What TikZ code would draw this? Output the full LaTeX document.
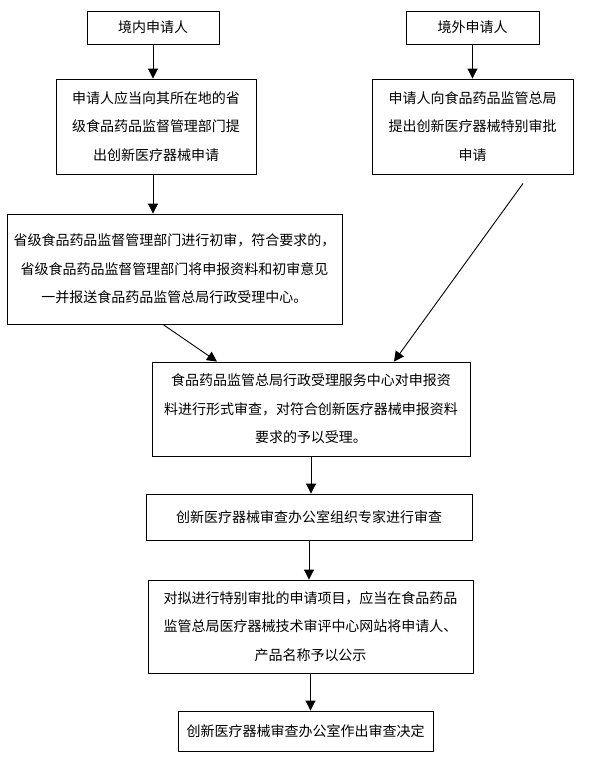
\documentclass[tikz,border=0pt]{standalone}
\usepackage{fontspec}
\setmainfont{Noto Sans CJK SC}
\usetikzlibrary{arrows.meta}
\begin{document}
\begin{tikzpicture}[x=1pt,y=-1pt,
  box/.style={draw,line width=0.9pt,inner sep=0pt,align=center,font=\fontsize{14}{28.5}\selectfont},
  arr/.style={line width=0.9pt,-{Triangle[length=10pt,width=10pt]}}]
\useasboundingbox[fill=white] (0,0) rectangle (591,764);
\node[box,minimum width=132pt,minimum height=33pt] (b1) at (153,27.5) {境内申请人};
\node[box,minimum width=133pt,minimum height=33pt] (b2) at (472.5,27.5) {境外申请人};
\node[box,minimum width=200pt,minimum height=95pt] (b3) at (156,126.5) {申请人应当向其所在地的省\\级食品药品监督管理部门提\\出创新医疗器械申请};
\node[box,minimum width=201pt,minimum height=95pt] (b4) at (472.5,126.5) {申请人向食品药品监管总局\\提出创新医疗器械特别审批\\申请};
\node[box,minimum width=335pt,minimum height=110pt] (b5) at (174.5,269) {省级食品药品监督管理部门进行初审，符合要求的，\\省级食品药品监督管理部门将申报资料和初审意见\\一并报送食品药品监管总局行政受理中心。};
\node[box,minimum width=318pt,minimum height=94pt] (b6) at (311,409) {食品药品监管总局行政受理服务中心对申报资\\料进行形式审查，对符合创新医疗器械申报资料\\要求的予以受理。};
\node[box,minimum width=326pt,minimum height=46pt] (b7) at (309,517) {创新医疗器械审查办公室组织专家进行审查};
\node[box,minimum width=325pt,minimum height=93pt] (b8) at (310.5,626.5) {对拟进行特别审批的申请项目，应当在食品药品\\监管总局医疗器械技术审评中心网站将申请人、\\产品名称予以公示};
\node[box,minimum width=255pt,minimum height=40pt] (b9) at (305.5,731) {创新医疗器械审查办公室作出审查决定};
\draw[arr] (b1.south) -- (b1.south |- b3.north);
\draw[arr] (b2.south) -- (b2.south |- b4.north);
\draw[arr] ([xshift=-3pt]b3.south) -- ([xshift=-3pt]b3.south |- b5.north);
\draw[arr] ([xshift=-11.5pt]b5.south) -- ([xshift=-94pt]b6.north);
\draw[arr] ([xshift=50.5pt,yshift=-9pt]b4.south) -- ([xshift=83pt]b6.north);
\draw[arr] (b6.south) -- (b6.south |- b7.north);
\draw[arr] (b7.south) -- (b7.south |- b8.north);
\draw[arr] (b8.south) -- (b8.south |- b9.north);
\end{tikzpicture}
\end{document}
